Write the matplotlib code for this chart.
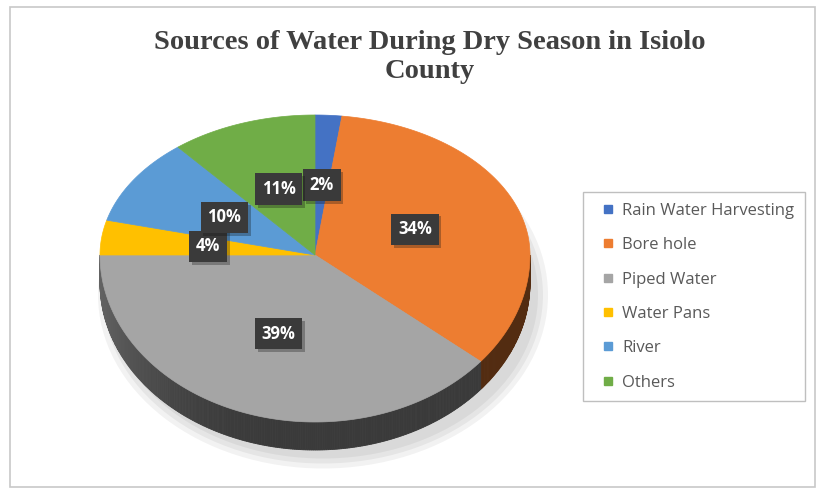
import numpy as np
import matplotlib.pyplot as plt
import matplotlib.patheffects as pe
from matplotlib.patches import Polygon, Rectangle, Ellipse
from matplotlib.lines import Line2D

# Data
categories = ["Rain Water Harvesting", "Bore hole", "Piped Water",
              "Water Pans", "River", "Others"]
shares = [2, 34, 39, 4, 10, 11]
colors = ["#4472C4", "#ED7D31", "#A5A5A5", "#FFC000", "#5B9BD5", "#70AD47"]
title = "Sources of Water During Dry Season in Isiolo\nCounty"

W, H = 822, 491

# pie geometry in pixel space (tilted disc)
cx, cy = 315, 255
rx, ry_top, ry_bot = 215, 140, 167
depth = 28


def proj(theta, r=1.0, z=0.0):
    # theta in degrees, counterclockwise from +x
    t = np.radians(theta)
    s = np.sin(t)
    ry = np.where(s > 0, ry_top, ry_bot)
    return cx + r * rx * np.cos(t), cy - r * ry * s + z


def shade(hexcol, f):
    c = np.array(plt.matplotlib.colors.to_rgb(hexcol))
    return tuple(np.clip(c * f, 0, 1))


fig = plt.figure(figsize=(W / 100, H / 100), dpi=100)
ax = fig.add_axes([0, 0, 1, 1])
ax.set_xlim(0, W)
ax.set_ylim(H, 0)
ax.axis("off")

# chart border
ax.add_patch(Rectangle((10, 7), 805, 480, fill=False, ec="#c8c8c8", lw=1.2))

# soft shadow under pie
for i in range(3):
    ax.add_patch(Ellipse((cx + 8, cy + 40), 2 * rx + 20 - i * 10,
                         ry_top + ry_bot + 40 - i * 10, color="black",
                         alpha=0.05, lw=0, zorder=0))

# wedge angles: start at top, go clockwise
total = sum(shares)
bounds = 90 - 360 * np.concatenate([[0], np.cumsum(shares)]) / total
wedges = list(zip(bounds[:-1], bounds[1:]))

# side walls (front half only, angles between -180 and 0)
for (a0, a1), col in zip(wedges, colors):
    lo, hi = min(a0, a1), max(a0, a1)
    for off in (0, 360, -360):
        s0, s1 = max(lo + off, -180), min(hi + off, 0)
        if s1 <= s0:
            continue
        steps = np.linspace(s0, s1, max(int((s1 - s0) * 2), 2))
        for t0, t1 in zip(steps[:-1], steps[1:]):
            tm = 0.5 * (t0 + t1)
            # lighter near the left edge, darker towards the middle/right
            f = 0.35 + 0.25 * max(0, np.cos(np.radians(tm + 180))) ** 3
            xs0, ys0 = proj(np.array([t0, t1]))
            xs1, ys1 = proj(np.array([t1, t0]), z=depth)
            pts = np.column_stack([np.r_[xs0, xs1], np.r_[ys0, ys1]])
            ax.add_patch(Polygon(pts, closed=True, fc=shade(col, f),
                                 ec=shade(col, f), lw=0.6, zorder=2))

# top faces
for (a0, a1), col in zip(wedges, colors):
    th = np.linspace(a0, a1, 120)
    xs, ys = proj(th)
    pts = np.column_stack([np.r_[cx, xs], np.r_[cy, ys]])
    ax.add_patch(Polygon(pts, closed=True, fc=col, ec=col, lw=0.5, zorder=3))

# data labels at half radius, dark boxes with a small drop shadow
for (a0, a1), v in zip(wedges, shares):
    xm, ym = proj(0.5 * (a0 + a1), r=0.5)
    txt = ax.text(xm, ym, f"{v}%", ha="center", va="center", fontsize=12,
                  fontweight="bold", color="white", family="Open Sans",
                  zorder=5,
                  bbox=dict(boxstyle="square,pad=0.4", fc="#3a3a3a",
                            ec="none"))
    txt.get_bbox_patch().set_path_effects(
        [pe.SimplePatchShadow(offset=(2, -2), alpha=0.3), pe.Normal()])

# title
ax.text(430, 57, title, ha="center", va="center", fontsize=20.5,
        fontweight="bold", color="#404040", family="Liberation Serif",
        linespacing=1.25)

# legend
handles = [Line2D([], [], ls="none", marker="s", markersize=6, color=c,
                  label=n) for n, c in zip(categories, colors)]
leg = ax.legend(handles=handles, loc="upper left",
                bbox_to_anchor=(583 / W, 1 - 192 / H), borderaxespad=0,
                handlelength=1.7, handletextpad=0.0,
                labelspacing=1.1, borderpad=0.65, fancybox=False,
                edgecolor="#bfbfbf", framealpha=1,
                prop={"family": "Open Sans", "size": 12})
leg.get_frame().set_linewidth(1.0)
for t in leg.get_texts():
    t.set_color("#595959")

fig.savefig("out.png", dpi=100)
